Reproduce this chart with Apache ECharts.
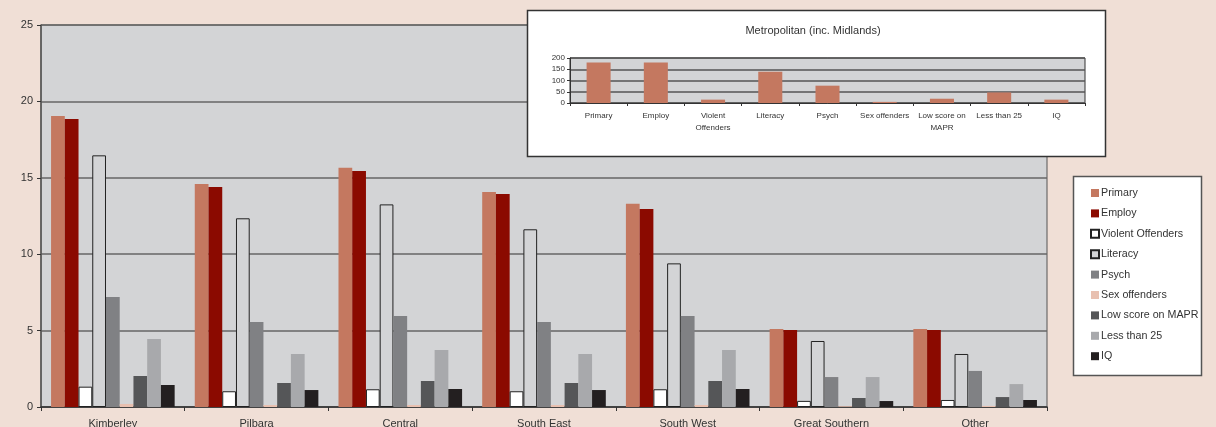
<!DOCTYPE html>
<html>
<head>
<meta charset="utf-8">
<script src="https://cdn.jsdelivr.net/npm/echarts@6/dist/echarts.min.js"></script>
<style>
  html, body { margin: 0; padding: 0; background: #f0dfd6; }
  #chart { width: 1216px; height: 427px; }
</style>
</head>
<body>
<div id="chart"></div>
<script>
// Regions along the main category axis
const regions = ['Kimberley', 'Pilbara', 'Central', 'South East', 'South West', 'Great Southern', 'Other'];

// Measure names (one series each)
const measures = ['Primary', 'Employ', 'Violent Offenders', 'Literacy', 'Psych',
  'Sex offenders', 'Low score on MAPR', 'Less than 25', 'IQ'];

// Values per measure, one entry per region
const primary   = [19.05, 14.6, 15.65, 14.07, 13.3, 5.1, 5.1];
const employ    = [18.85, 14.4, 15.45, 13.94, 12.96, 5.04, 5.04];
const violent   = [1.33, 1.03, 1.16, 1.03, 1.16, 0.4, 0.46];
const literacy  = [16.47, 12.35, 13.26, 11.63, 9.4, 4.32, 3.47];
const psych     = [7.2, 5.56, 5.96, 5.56, 5.96, 1.96, 2.36];
const sexOff    = [0.2, 0.13, 0.13, 0.13, 0.13, 0.05, 0.07];
const mapr      = [2.03, 1.57, 1.7, 1.57, 1.7, 0.59, 0.65];
const lessThan25 = [4.45, 3.47, 3.73, 3.47, 3.73, 1.96, 1.5];
const iq        = [1.44, 1.11, 1.18, 1.11, 1.18, 0.39, 0.46];

// Metropolitan (inc. Midlands) inset
const metroTitle = 'Metropolitan (inc. Midlands)';
const metroLabels = ['Primary', 'Employ', 'Violent\nOffenders', 'Literacy', 'Psych',
  'Sex offenders', 'Low score on\nMAPR', 'Less than 25', 'IQ'];
const metroValues = [180, 180, 15, 139, 77, 5, 19, 47, 15];

const seriesValues = [primary, employ, violent, literacy, psych, sexOff, mapr, lessThan25, iq];

const fills = ['#c47860', '#8b0a00', '#ffffff', '#d3d4d6', '#808184',
  '#e8c0b0', '#555658', '#a8a9ac', '#231f20'];
const outlined = [false, false, true, true, false, false, false, false, false];

const FONT = '"Liberation Sans", Arial, sans-serif';
const TXT = '#333333';

const chart = echarts.init(document.getElementById('chart'), null, { renderer: 'canvas' });

const mainSeries = measures.map((name, i) => ({
  name: name,
  type: 'bar',
  xAxisIndex: 0,
  yAxisIndex: 0,
  data: seriesValues[i],
  barGap: '0%',
  barCategoryGap: '14%',
  itemStyle: outlined[i]
    ? { color: fills[i], borderColor: '#222222', borderWidth: 1 }
    : { color: fills[i] },
  emphasis: { disabled: true },
  animation: false
}));

const option = {
  animation: false,
  backgroundColor: '#f0dfd6',
  textStyle: { fontFamily: FONT },
  title: {
    text: metroTitle,
    left: 808,
    textAlign: 'center',
    top: 20,
    z: 30,
    textStyle: { fontFamily: FONT, fontSize: 11, fontWeight: 'normal', color: TXT }
  },
  legend: {
    orient: 'vertical',
    left: 1085,
    top: 182,
    itemWidth: 8,
    itemHeight: 8,
    itemGap: 8.4,
    icon: 'rect',
    selectedMode: false,
    data: measures,
    textStyle: { fontFamily: FONT, fontSize: 10.7, color: TXT, padding: [0, 0, 0, -3], lineHeight: 12 },
    z: 30
  },
  graphic: [
    {
      type: 'rect',
      z: 12,
      shape: { x: 527.5, y: 10.5, width: 578, height: 146 },
      style: { fill: '#ffffff', stroke: '#333333', lineWidth: 1.5 }
    },
    {
      type: 'rect',
      z: 12,
      shape: { x: 1073.5, y: 176.5, width: 128, height: 199 },
      style: { fill: '#ffffff', stroke: '#555555', lineWidth: 1.5 }
    }
  ],
  grid: [
    {
      left: 41, top: 25, width: 1006, height: 382,
      outerBoundsMode: 'none', containLabel: false,
      show: true, backgroundColor: '#d3d4d6', borderColor: '#555555', borderWidth: 1
    },
    {
      left: 570, top: 58, width: 515, height: 45, z: 15,
      outerBoundsMode: 'none', containLabel: false,
      show: true, backgroundColor: '#d3d4d6', borderColor: '#333333', borderWidth: 1
    }
  ],
  xAxis: [
    {
      type: 'category',
      gridIndex: 0,
      data: regions,
      axisLine: { lineStyle: { color: '#333333', width: 1.5 } },
      axisTick: { show: true, length: 4, lineStyle: { color: '#333333' } },
      axisLabel: { color: TXT, fontSize: 11, fontFamily: FONT, margin: 11 }
    },
    {
      type: 'category',
      gridIndex: 1,
      z: 16,
      data: metroLabels,
      axisLine: { lineStyle: { color: '#333333', width: 1 } },
      axisTick: { show: true, length: 3, lineStyle: { color: '#333333' } },
      axisLabel: { color: TXT, fontSize: 8, fontFamily: FONT, margin: 7, lineHeight: 12, interval: 0 }
    }
  ],
  yAxis: [
    {
      type: 'value',
      gridIndex: 0,
      min: 0, max: 25, interval: 5,
      axisLine: { show: true, lineStyle: { color: '#555555', width: 1.5 } },
      axisTick: { show: true, length: 4, lineStyle: { color: '#333333' } },
      axisLabel: { color: TXT, fontSize: 11, fontFamily: FONT, margin: 8 },
      splitLine: { lineStyle: { color: '#666666', width: 1.5 } }
    },
    {
      type: 'value',
      gridIndex: 1,
      z: 16,
      min: 0, max: 200, interval: 50,
      axisLine: { show: true, lineStyle: { color: '#333333', width: 1 } },
      axisTick: { show: true, length: 3, lineStyle: { color: '#333333' } },
      axisLabel: { color: TXT, fontSize: 8, fontFamily: FONT, margin: 5 },
      splitLine: { lineStyle: { color: '#555555', width: 1.5 } }
    }
  ],
  series: mainSeries.concat([{
    name: metroTitle,
    type: 'bar',
    xAxisIndex: 1,
    yAxisIndex: 1,
    z: 20,
    data: metroValues,
    barWidth: '42%',
    itemStyle: { color: '#c47860' },
    emphasis: { disabled: true }
  }])
};

chart.setOption(option);
</script>
</body>
</html>
